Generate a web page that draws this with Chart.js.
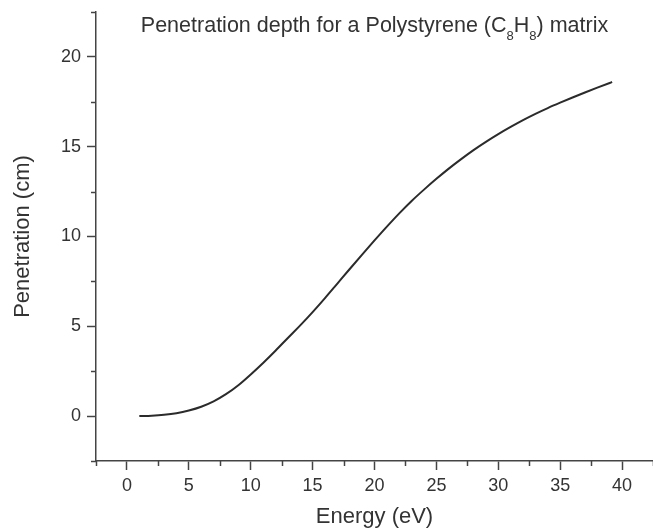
<!DOCTYPE html>
<html>
<head>
<meta charset="utf-8">
<title>Penetration depth</title>
<script src="https://cdn.jsdelivr.net/npm/chart.js@4"></script>
<style>
  html, body { margin: 0; padding: 0; background: #fff; }
  #wrap { width: 653px; height: 530px; position: relative; }
</style>
</head>
<body>
<div id="wrap"><canvas id="depth-chart"></canvas></div>
<script>
// energy in eV and penetration in cm
const energy = [1, 2, 3, 4, 5, 6, 7, 8, 9, 10, 11, 12, 13, 14, 15, 16, 17, 18, 19, 20,
                21, 22, 23, 24, 25, 26, 27, 28, 29, 30, 31, 32, 33, 34, 35, 36, 37, 38, 39, 39.2];
const penetration = [0.00, 0.02, 0.07, 0.16, 0.31, 0.52, 0.82, 1.22, 1.72, 2.32,
                     2.96, 3.64, 4.35, 5.05, 5.79, 6.57, 7.38, 8.19, 8.99, 9.78,
                     10.55, 11.29, 11.98, 12.61, 13.21, 13.78, 14.31, 14.81, 15.27, 15.70,
                     16.10, 16.48, 16.83, 17.15, 17.45, 17.74, 18.02, 18.29, 18.55, 18.60];

const xRange = [-2.5, 42.5];
const yRange = [-2.5, 22.5];
const majorStep = 5;
const minorStep = 2.5;

const titleParts = [
  { text: "Penetration depth for a Polystyrene (C", sub: false },
  { text: "8", sub: true },
  { text: "H", sub: false },
  { text: "8", sub: true },
  { text: ") matrix", sub: false }
];

const FONT = "'Liberation Sans', Arial, Helvetica, sans-serif";
const INK = "#333333";
const AXIS = "#444444";

const isMajor = v => Math.abs(v / majorStep - Math.round(v / majorStep)) < 1e-6;

// short ticks halfway between the labelled ones
const minorTicks = {
  id: "minorTicks",
  afterDraw(chart) {
    const { ctx, scales } = chart;
    ctx.save();
    ctx.strokeStyle = AXIS;
    ctx.lineWidth = 1.5;
    const xs = scales.x, ys = scales.y;
    for (let v = xRange[0]; v <= xRange[1] + 1e-6; v += minorStep) {
      if (isMajor(v)) continue;
      const px = Math.round(xs.getPixelForValue(v)) + 0.5;
      ctx.beginPath();
      ctx.moveTo(px, xs.top);
      ctx.lineTo(px, xs.top + 5);
      ctx.stroke();
    }
    for (let v = yRange[0]; v <= yRange[1] + 1e-6; v += minorStep) {
      if (isMajor(v)) continue;
      const py = Math.round(ys.getPixelForValue(v)) + 0.5;
      ctx.beginPath();
      ctx.moveTo(ys.right, py);
      ctx.lineTo(ys.right - 5, py);
      ctx.stroke();
    }
    ctx.restore();
  }
};

// title with subscripts, inside the plot area
const subTitle = {
  id: "subTitle",
  afterDraw(chart) {
    const { ctx, chartArea } = chart;
    const big = "21.5px " + FONT, small = "13px " + FONT;
    ctx.save();
    ctx.fillStyle = INK;
    ctx.textBaseline = "alphabetic";
    ctx.textAlign = "left";
    let total = 0;
    titleParts.forEach(p => {
      ctx.font = p.sub ? small : big;
      total += ctx.measureText(p.text).width;
    });
    let x = (chartArea.left + chartArea.right) / 2 - total / 2;
    const base = chartArea.top + 19.5;
    titleParts.forEach(p => {
      ctx.font = p.sub ? small : big;
      ctx.fillText(p.text, x, p.sub ? base + 8.5 : base);
      x += ctx.measureText(p.text).width;
    });
    ctx.restore();
  }
};

const tickColor = c => (c.tick && isMajor(c.tick.value) ? AXIS : "rgba(0,0,0,0)");

const ctx = document.getElementById("depth-chart").getContext("2d");
new Chart(ctx, {
  type: "line",
  data: {
    datasets: [{
      data: energy.map((e, i) => ({ x: e, y: penetration[i] })),
      borderColor: "#2b2b2b",
      borderWidth: 2,
      pointRadius: 0,
      fill: false,
      cubicInterpolationMode: "monotone"
    }]
  },
  options: {
    responsive: true,
    maintainAspectRatio: false,
    animation: false,
    layout: { padding: { top: 12, right: 0, left: 0, bottom: 0 } },
    plugins: {
      legend: { display: false },
      title: { display: false },
      tooltip: { enabled: false }
    },
    scales: {
      x: {
        type: "linear",
        min: xRange[0],
        max: xRange[1],
        afterFit: s => { s.height = 69; s.paddingLeft = 0; s.paddingRight = 0; },
        border: { color: AXIS, width: 1.5 },
        grid: {
          drawOnChartArea: false,
          tickLength: 9,
          tickWidth: 1.5,
          tickColor: tickColor
        },
        ticks: {
          stepSize: minorStep,
          color: INK,
          padding: 5,
          maxRotation: 0,
          autoSkip: false,
          font: { family: FONT, size: 18 },
          callback: v => (isMajor(v) ? String(v) : "")
        },
        title: {
          display: true,
          text: "Energy (eV)",
          color: INK,
          padding: { top: 0, bottom: 0 },
          font: { family: FONT, size: 22 }
        }
      },
      y: {
        type: "linear",
        min: yRange[0],
        max: yRange[1],
        afterFit: s => { s.width = 96; s.paddingTop = 0; s.paddingBottom = 0; },
        border: { color: AXIS, width: 1.5 },
        grid: {
          drawOnChartArea: false,
          tickLength: 9,
          tickWidth: 1.5,
          tickColor: tickColor
        },
        ticks: {
          stepSize: minorStep,
          color: INK,
          padding: 6,
          autoSkip: false,
          font: { family: FONT, size: 18 },
          callback: v => (isMajor(v) ? String(v) : "")
        },
        title: {
          display: true,
          text: "Penetration (cm)",
          color: INK,
          padding: { top: 10, bottom: 0 },
          font: { family: FONT, size: 22 }
        }
      }
    }
  },
  plugins: [minorTicks, subTitle]
});
</script>
</body>
</html>
